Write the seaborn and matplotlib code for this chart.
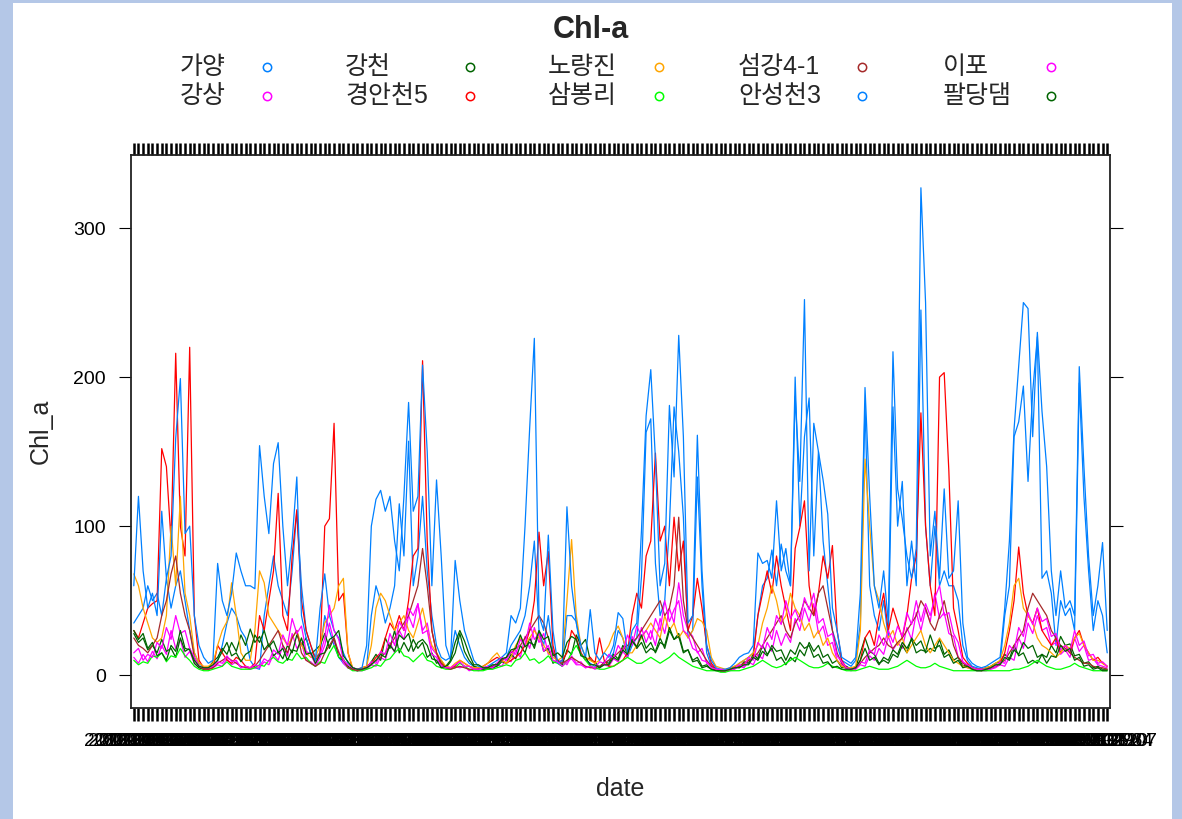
import numpy as np
import pandas as pd
import matplotlib
matplotlib.use('Agg')
import matplotlib.pyplot as plt
import seaborn as sns
from matplotlib.lines import Line2D
from matplotlib.patches import Rectangle

# site names, in the order lattice draws them
sites = ['가양', '강상', '강천', '경안천5', '노량진', '삼봉리', '섬강4-1', '안성천3', '이포', '팔당댐']
colors = ['#0080ff', '#ff00ff', '#006400', '#ff0000', '#ffa500', '#00ff00', '#a52a2a', '#0080ff', '#ff00ff', '#006400']

# sampling dates (factor levels on the x axis)
dates = pd.date_range('2012-01-03', periods=210, freq='14D').strftime('%Y-%m-%d').tolist()

gayang = [35, 40, 45, 60, 50, 55, 40, 65, 45, 60, 70, 50, 30, 15, 8, 5, 5, 6, 10, 20,
          35, 45, 40, 30, 25, 10, 5, 4, 40, 60, 80, 60, 50, 40, 70, 110, 60, 30, 20, 12,
          15, 40, 30, 20, 12, 8, 5, 4, 3, 4, 6, 40, 60, 50, 35, 45, 60, 115, 80, 157,
          60, 80, 120, 70, 40, 20, 12, 10, 12, 30, 20, 12, 8, 6, 5, 4, 5, 6, 8, 10,
          12, 20, 25, 30, 40, 60, 90, 30, 20, 40, 15, 8, 6, 40, 40, 36, 15, 10, 8, 6,
          6, 8, 10, 15, 30, 25, 12, 20, 25, 66, 163, 172, 75, 40, 50, 100, 180, 150, 106, 25,
          30, 133, 60, 15, 6, 4, 3, 3, 4, 5, 8, 10, 12, 15, 40, 60, 65, 84, 60, 88,
          70, 60, 200, 100, 160, 186, 80, 150, 90, 60, 30, 20, 10, 8, 6, 10, 35, 182, 60, 40,
          30, 50, 25, 180, 100, 130, 60, 90, 60, 245, 100, 60, 100, 60, 70, 60, 60, 50, 20, 10,
          6, 5, 4, 4, 5, 6, 8, 40, 60, 160, 170, 194, 130, 190, 227, 65, 70, 55, 20, 50,
          40, 45, 30, 196, 120, 70, 30, 50, 40, 15]
gangsang = [12, 8, 14, 9, 16, 11, 20, 14, 30, 18, 24, 12, 16, 8, 5, 4, 4, 5, 7, 6,
            11, 7, 9, 5, 6, 4, 5, 5, 9, 7, 14, 10, 20, 13, 28, 18, 22, 10, 9, 6,
            12, 20, 35, 22, 16, 8, 5, 4, 3, 3, 4, 7, 6, 12, 10, 22, 15, 30, 24, 40,
            32, 48, 30, 35, 18, 14, 7, 5, 4, 6, 5, 6, 3, 4, 3, 4, 5, 4, 7, 6,
            11, 9, 17, 12, 26, 18, 32, 22, 28, 14, 17, 9, 10, 7, 13, 8, 9, 5, 6, 4,
            5, 7, 6, 11, 9, 16, 12, 26, 18, 32, 22, 30, 20, 38, 28, 45, 35, 62, 40, 30,
            26, 15, 18, 8, 7, 4, 3, 3, 3, 4, 6, 5, 9, 7, 14, 11, 22, 16, 30, 20,
            28, 22, 38, 30, 45, 36, 48, 28, 33, 20, 22, 10, 7, 4, 3, 4, 7, 6, 13, 10,
            18, 14, 26, 17, 22, 18, 32, 24, 42, 30, 44, 36, 55, 38, 42, 28, 26, 12, 9, 5,
            4, 3, 3, 3, 4, 5, 7, 6, 12, 10, 25, 18, 35, 28, 40, 30, 32, 20, 22, 14,
            17, 12, 25, 16, 20, 10, 11, 7, 6, 5]
gangcheon = [28, 22, 25, 17, 20, 15, 24, 16, 18, 12, 25, 16, 18, 8, 5, 4, 5, 9, 12, 18,
             14, 22, 16, 27, 20, 31, 22, 26, 17, 21, 13, 16, 11, 20, 15, 27, 20, 25, 14, 17,
             20, 28, 18, 25, 12, 10, 6, 4, 3, 4, 5, 9, 14, 10, 25, 18, 30, 15, 22, 16,
             24, 18, 22, 12, 15, 8, 10, 5, 9, 15, 28, 16, 10, 6, 5, 4, 4, 5, 6, 9,
             8, 14, 11, 20, 15, 25, 18, 29, 16, 18, 8, 10, 7, 17, 14, 27, 20, 24, 10, 9,
             5, 9, 8, 14, 11, 20, 15, 24, 18, 22, 15, 18, 16, 25, 18, 30, 24, 28, 16, 17,
             10, 12, 6, 7, 4, 4, 3, 3, 4, 6, 5, 9, 8, 14, 11, 20, 14, 18, 10, 12,
             7, 12, 9, 17, 13, 22, 16, 20, 12, 14, 8, 10, 5, 6, 4, 5, 15, 25, 16, 14,
             8, 10, 8, 14, 12, 20, 15, 25, 20, 23, 15, 18, 16, 24, 14, 17, 10, 12, 6, 7,
             5, 4, 4, 5, 6, 8, 9, 14, 11, 20, 13, 15, 8, 10, 8, 14, 12, 20, 15, 26,
             20, 21, 13, 14, 8, 9, 5, 6, 4, 4]
gyeongan5 = [30, 25, 35, 45, 48, 50, 152, 140, 90, 216, 100, 80, 220, 40, 10, 5, 4, 5, 20, 15,
             10, 8, 12, 10, 6, 5, 8, 40, 30, 50, 70, 122, 40, 30, 80, 111, 50, 30, 20, 10,
             15, 100, 105, 169, 50, 55, 15, 4, 4, 5, 6, 8, 12, 15, 25, 35, 30, 40, 30, 50,
             80, 85, 211, 90, 30, 15, 8, 6, 5, 6, 10, 8, 6, 5, 5, 6, 8, 10, 12, 10,
             8, 10, 12, 15, 20, 30, 50, 96, 60, 83, 20, 8, 10, 15, 30, 25, 15, 10, 12, 8,
             25, 10, 6, 6, 8, 10, 15, 40, 55, 45, 80, 90, 149, 90, 100, 60, 106, 70, 90, 30,
             40, 65, 45, 20, 8, 4, 3, 3, 4, 5, 6, 8, 10, 12, 40, 55, 70, 55, 80, 60,
             45, 30, 85, 99, 117, 60, 40, 55, 80, 65, 87, 30, 10, 5, 4, 5, 10, 25, 30, 20,
             40, 55, 30, 45, 35, 25, 40, 65, 80, 176, 100, 60, 40, 200, 203, 137, 45, 30, 12, 8,
             5, 4, 3, 4, 5, 6, 8, 15, 30, 50, 86, 55, 40, 35, 45, 30, 25, 20, 25, 15,
             20, 15, 25, 30, 20, 15, 10, 12, 8, 6]
noryangjin = [68, 60, 45, 35, 25, 22, 25, 40, 100, 60, 120, 55, 40, 15, 8, 6, 6, 8, 20, 30,
              36, 62, 40, 15, 10, 10, 30, 70, 62, 40, 35, 30, 25, 20, 25, 30, 20, 15, 12, 12,
              20, 35, 40, 45, 60, 65, 15, 5, 4, 5, 6, 20, 45, 55, 50, 40, 30, 35, 40, 30,
              25, 35, 45, 30, 20, 15, 10, 6, 5, 8, 10, 8, 6, 5, 5, 6, 8, 12, 15, 10,
              8, 12, 20, 25, 20, 25, 30, 25, 20, 15, 12, 10, 12, 50, 91, 40, 20, 12, 10, 8,
              10, 15, 20, 28, 33, 25, 15, 15, 20, 25, 30, 35, 30, 25, 40, 30, 35, 25, 30, 25,
              30, 38, 36, 30, 12, 6, 5, 4, 5, 6, 8, 10, 12, 15, 20, 35, 45, 60, 50, 35,
              40, 55, 45, 40, 30, 35, 25, 30, 20, 25, 15, 10, 6, 5, 5, 6, 30, 145, 100, 60,
              50, 35, 25, 30, 20, 25, 15, 20, 25, 30, 20, 15, 20, 25, 20, 15, 10, 8, 6, 5,
              4, 4, 4, 5, 6, 8, 10, 20, 35, 60, 65, 45, 40, 35, 25, 20, 18, 15, 12, 15,
              20, 18, 25, 28, 20, 15, 10, 10, 8, 6]
sambongri = [10, 7, 9, 8, 13, 12, 15, 9, 13, 12, 18, 13, 10, 6, 4, 3, 3, 4, 5, 6,
             9, 6, 5, 4, 4, 4, 5, 7, 6, 10, 12, 9, 8, 11, 10, 15, 11, 12, 8, 6,
             9, 8, 15, 20, 12, 11, 5, 3, 3, 3, 4, 5, 7, 6, 10, 11, 15, 18, 13, 12,
             9, 12, 15, 10, 9, 6, 5, 4, 4, 5, 8, 6, 4, 3, 3, 3, 4, 4, 5, 6,
             7, 6, 10, 11, 15, 10, 11, 8, 10, 13, 9, 8, 6, 9, 15, 20, 14, 10, 6, 5,
             4, 4, 5, 6, 8, 10, 12, 10, 8, 8, 10, 12, 10, 8, 10, 12, 15, 12, 10, 8,
             6, 5, 4, 3, 3, 3, 2, 2, 3, 3, 3, 4, 5, 6, 8, 10, 8, 6, 5, 6,
             8, 10, 12, 10, 8, 6, 5, 5, 6, 8, 6, 5, 4, 3, 3, 3, 4, 5, 6, 5,
             4, 4, 4, 5, 6, 8, 10, 8, 6, 5, 5, 6, 8, 6, 5, 4, 3, 3, 3, 3,
             3, 3, 3, 3, 3, 3, 3, 3, 3, 4, 4, 5, 6, 8, 10, 8, 6, 5, 4, 4,
             5, 6, 8, 6, 5, 4, 3, 3, 3, 3]
seomgang41 = [25, 20, 18, 15, 20, 25, 40, 50, 68, 80, 55, 40, 30, 12, 6, 4, 4, 5, 8, 10,
              12, 10, 8, 6, 5, 5, 6, 10, 15, 20, 25, 30, 20, 15, 25, 30, 15, 10, 8, 6,
              8, 15, 20, 25, 15, 10, 5, 4, 3, 4, 5, 8, 10, 12, 15, 20, 25, 30, 35, 40,
              50, 60, 85, 60, 30, 15, 8, 5, 4, 5, 6, 5, 4, 4, 4, 5, 5, 6, 8, 10,
              12, 15, 18, 20, 25, 30, 35, 40, 35, 25, 15, 10, 8, 10, 12, 10, 8, 6, 5, 5,
              6, 8, 10, 12, 15, 18, 20, 22, 25, 30, 35, 40, 45, 50, 40, 45, 60, 106, 50, 30,
              25, 20, 15, 10, 6, 4, 3, 3, 4, 5, 6, 8, 10, 12, 15, 20, 25, 30, 35, 40,
              30, 25, 35, 40, 50, 45, 40, 55, 60, 45, 30, 15, 8, 5, 4, 5, 8, 12, 15, 18,
              20, 25, 20, 18, 22, 25, 30, 35, 40, 50, 45, 35, 30, 40, 50, 35, 20, 12, 8, 6,
              5, 4, 4, 4, 5, 6, 8, 10, 15, 20, 25, 30, 45, 55, 50, 45, 40, 30, 25, 20,
              18, 15, 12, 10, 8, 8, 6, 5, 5, 4]
anseong3 = [60, 120, 70, 45, 55, 40, 110, 65, 80, 159, 199, 95, 100, 40, 20, 12, 8, 10, 75, 50,
            40, 55, 82, 70, 60, 60, 58, 154, 120, 95, 142, 156, 100, 60, 90, 133, 40, 25, 15, 10,
            45, 68, 40, 30, 25, 15, 8, 5, 4, 5, 20, 100, 118, 124, 110, 120, 90, 70, 120, 183,
            110, 120, 208, 150, 60, 131, 80, 20, 10, 77, 50, 30, 20, 10, 6, 5, 6, 8, 10, 12,
            15, 40, 35, 45, 100, 166, 226, 40, 30, 94, 30, 8, 10, 113, 60, 35, 20, 12, 44, 15,
            10, 15, 12, 20, 42, 38, 15, 30, 35, 97, 174, 205, 145, 60, 75, 181, 133, 228, 160, 35,
            40, 161, 70, 20, 10, 5, 4, 4, 5, 8, 12, 14, 15, 20, 82, 75, 77, 65, 117, 70,
            85, 60, 187, 130, 252, 70, 169, 150, 131, 108, 45, 30, 12, 10, 8, 12, 55, 193, 120, 60,
            45, 70, 35, 217, 125, 105, 80, 65, 85, 327, 250, 80, 110, 65, 125, 65, 70, 117, 35, 12,
            8, 6, 5, 6, 8, 10, 12, 45, 90, 165, 207, 250, 246, 160, 230, 177, 140, 70, 40, 70,
            45, 50, 40, 207, 140, 80, 40, 60, 89, 30]
ipo = [15, 18, 10, 14, 12, 22, 18, 32, 24, 40, 28, 30, 18, 12, 6, 5, 5, 6, 9, 8,
       13, 9, 10, 5, 6, 5, 7, 6, 11, 9, 17, 14, 27, 20, 38, 28, 33, 16, 14, 7,
       14, 25, 47, 30, 24, 10, 7, 5, 4, 4, 5, 9, 8, 16, 14, 28, 20, 36, 30, 45,
       40, 48, 28, 30, 14, 12, 6, 5, 5, 7, 9, 6, 6, 4, 4, 5, 6, 5, 8, 12,
       10, 16, 14, 24, 20, 35, 24, 28, 16, 20, 10, 9, 6, 9, 11, 7, 7, 5, 6, 5,
       9, 8, 14, 11, 20, 15, 27, 20, 33, 26, 30, 24, 38, 30, 50, 36, 44, 50, 30, 27,
       18, 16, 10, 9, 5, 4, 4, 3, 4, 5, 7, 6, 12, 10, 22, 18, 32, 24, 40, 34,
       50, 38, 44, 36, 52, 44, 55, 35, 38, 26, 28, 13, 9, 5, 4, 5, 9, 8, 17, 14,
       27, 20, 30, 22, 33, 26, 42, 34, 50, 36, 48, 40, 52, 60, 40, 42, 28, 22, 9, 7,
       5, 4, 4, 4, 5, 6, 9, 8, 20, 16, 32, 26, 42, 34, 45, 36, 38, 26, 28, 17,
       20, 16, 30, 20, 23, 13, 14, 8, 9, 6]
paldang = [30, 24, 28, 18, 22, 13, 15, 10, 20, 16, 30, 18, 17, 10, 6, 5, 5, 7, 10, 16,
           22, 13, 15, 9, 14, 16, 27, 22, 30, 19, 23, 15, 18, 10, 17, 16, 25, 14, 15, 8,
           14, 15, 24, 26, 30, 13, 9, 5, 4, 4, 5, 7, 10, 14, 12, 20, 16, 27, 24, 28,
           16, 22, 24, 20, 11, 10, 5, 6, 10, 22, 30, 23, 14, 7, 7, 5, 5, 7, 7, 11,
           12, 17, 18, 27, 19, 22, 20, 30, 24, 26, 13, 15, 12, 22, 26, 24, 13, 12, 7, 7,
           5, 7, 7, 12, 10, 17, 14, 23, 19, 27, 18, 22, 15, 22, 20, 32, 24, 26, 15, 17,
           9, 10, 5, 6, 4, 3, 3, 3, 4, 5, 5, 7, 7, 12, 10, 16, 13, 20, 16, 17,
           10, 17, 14, 22, 18, 20, 12, 14, 8, 9, 5, 6, 4, 4, 4, 5, 10, 18, 10, 12,
           7, 12, 10, 17, 14, 22, 18, 24, 15, 17, 16, 27, 18, 20, 12, 14, 8, 10, 5, 6,
           4, 3, 3, 4, 5, 7, 7, 12, 10, 17, 14, 22, 18, 20, 12, 14, 8, 13, 12, 20,
           16, 18, 10, 12, 6, 7, 4, 5, 3, 3]

series = [gayang, gangsang, gangcheon, gyeongan5, noryangjin,
          sambongri, seomgang41, anseong3, ipo, paldang]

n = len(dates)
frames = []
for name, vals in zip(sites, series):
    frames.append(pd.DataFrame({'pos': np.arange(1, n + 1), 'Chl_a': vals, 'site': name}))
df = pd.concat(frames, ignore_index=True)

sns.set_style('white')
plt.rcParams['font.family'] = ['Liberation Sans', 'Noto Sans CJK KR', 'DejaVu Sans']

fig = plt.figure(figsize=(11.82, 8.19), dpi=100)
fig.patch.set_facecolor('#b4c7e7')
fig.add_artist(Rectangle((13 / 1182, 0), 1159 / 1182, 816 / 819, transform=fig.transFigure,
                         facecolor='white', edgecolor='none', zorder=0))

ax = fig.add_axes([131 / 1182, 111 / 819, 979 / 1182, 553 / 819])
ax.set_facecolor('white')
sns.lineplot(data=df, x='pos', y='Chl_a', hue='site', hue_order=sites,
             palette=dict(zip(sites, colors)), estimator=None, sort=False,
             legend=False, linewidth=0.9, ax=ax)

ax.set_xlim(0.4, n + 0.6)
ax.set_ylim(-22, 349)
ax.set_xticks(np.arange(1, n + 1))
ax.set_xticklabels(dates)
ax.set_yticks([0, 100, 200, 300])
ax.set_xlabel('')
ax.set_ylabel('')
for s in ax.spines.values():
    s.set_color('#222222')
    s.set_linewidth(1.3)
ax.tick_params(axis='x', top=True, bottom=True, direction='out', length=9, width=1.8,
               labelsize=14, pad=9, colors='black')
ax.tick_params(axis='y', left=True, right=True, direction='out', length=9, width=0.8,
               labelsize=14, pad=9, colors='black')

fig.text(591 / 1182, 1 - 30 / 819, 'Chl-a', ha='center', va='center',
         fontsize=22, fontweight='bold')
fig.text(41 / 1182, 1 - 431 / 819, 'Chl_a', ha='center', va='center', rotation=90, fontsize=18)
fig.text(620 / 1182, 1 - 789 / 819, 'date', ha='center', va='center', fontsize=18)

# key: 5 columns x 2 rows, text then open point
text_x = [180, 345, 548, 738, 943]
mark_x = [267, 470, 659, 862, 1051]
row_y = [67, 96]
for i, (name, col) in enumerate(zip(sites, colors)):
    c, r = divmod(i, 2)
    fig.text(text_x[c] / 1182, 1 - row_y[r] / 819, name, ha='left', va='center', fontsize=18)
    fig.add_artist(Line2D([mark_x[c] / 1182], [1 - row_y[r] / 819], transform=fig.transFigure,
                          marker='o', markersize=6, markerfacecolor='none',
                          markeredgecolor=col, markeredgewidth=1.1, linestyle='none'))

fig.savefig('out.png', dpi=100, facecolor=fig.get_facecolor())
